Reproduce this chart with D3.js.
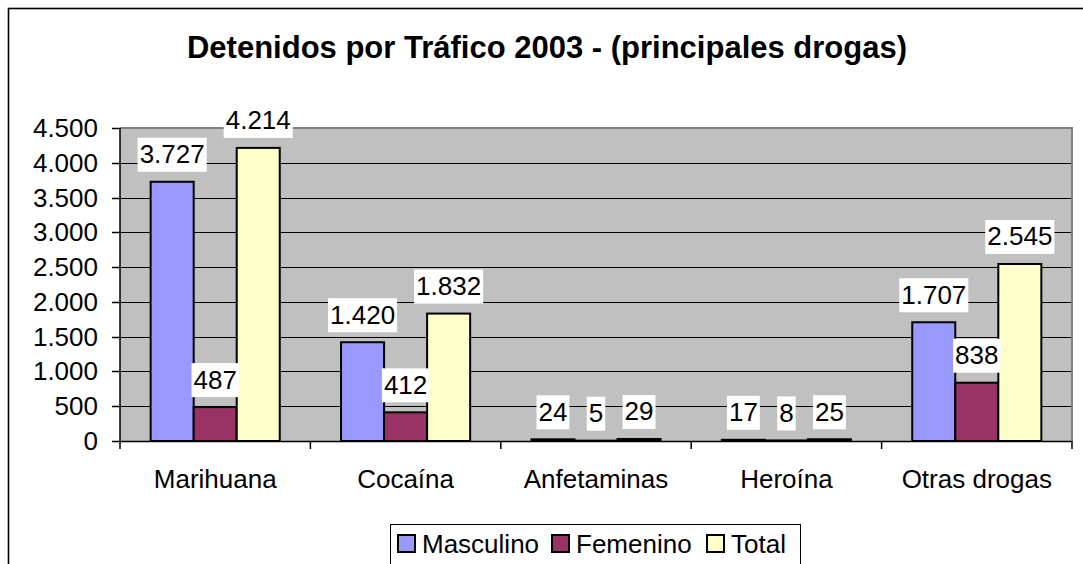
<!DOCTYPE html>
<html>
<head>
<meta charset="utf-8">
<script src="https://cdn.jsdelivr.net/npm/d3@7"></script>
<style>
  body { margin: 0; background: #fff; }
  svg { display: block; font-family: 'Liberation Sans', Arial, sans-serif; }
</style>
</head>
<body>
<div id="chart"></div>
<script>
const categories = ['Marihuana', 'Cocaína', 'Anfetaminas', 'Heroína', 'Otras drogas']
const series = ['Masculino', 'Femenino', 'Total']
const masculino = [3727, 1420, 24, 17, 1707]
const femenino = [487, 412, 5, 8, 838]
const total = [4214, 1832, 29, 25, 2545]
const yTicks = [0, 500, 1000, 1500, 2000, 2500, 3000, 3500, 4000, 4500]
const title = 'Detenidos por Tráfico 2003 - (principales drogas)'

const colors = {Masculino: '#9999ff', Femenino: '#993366', Total: '#ffffcc'}
const values = {Masculino: masculino, Femenino: femenino, Total: total}

const width = 1083, height = 564
const plot = {left: 120, right: 1072, top: 128, bottom: 441}
const fontSize = 26

const fmt = d3.formatLocale({decimal: ',', thousands: '.', grouping: [3], currency: ['', '']}).format(',d')

const svg = d3.select('#chart').append('svg')
  .attr('width', width)
  .attr('height', height)

// chart area border (runs off the right and bottom of the window)
svg.append('rect')
  .attr('x', 8.5).attr('y', 8.5)
  .attr('width', 1100).attr('height', 600)
  .attr('fill', '#fff')
  .attr('stroke', '#000')
  .attr('stroke-width', 1.6)

svg.append('text')
  .attr('x', 547)
  .attr('y', 58)
  .attr('text-anchor', 'middle')
  .attr('font-size', 31)
  .attr('font-weight', 'bold')
  .text(title)

const scaleX = d3.scaleBand().domain(categories).range([plot.left, plot.right])
const bw = scaleX.bandwidth()
const scaleS = d3.scaleBand().domain(series).range([bw * 0.161, bw * 0.839])
const scaleY = d3.scaleLinear().domain([0, 4500]).range([plot.bottom, plot.top])

svg.append('rect')
  .attr('x', plot.left).attr('y', plot.top)
  .attr('width', plot.right - plot.left)
  .attr('height', plot.bottom - plot.top)
  .attr('fill', '#c0c0c0')

svg.append('g').selectAll('line')
  .data(yTicks.filter(d => d > 0))
  .enter()
  .append('line')
  .attr('x1', plot.left).attr('x2', plot.right)
  .attr('y1', d => Math.round(scaleY(d)) + 0.5)
  .attr('y2', d => Math.round(scaleY(d)) + 0.5)
  .attr('stroke', '#000')
  .attr('stroke-width', 1)

// plot border (grey)
svg.append('path')
  .attr('d', `M${plot.left},${plot.top}H${plot.right}V${plot.bottom}`)
  .attr('fill', 'none')
  .attr('stroke', '#808080')
  .attr('stroke-width', 2)

const flat = []
categories.forEach((c, i) => {
  series.forEach(s => flat.push({cat: c, s: s, v: values[s][i]}))
})

svg.append('g').selectAll('rect')
  .data(flat)
  .enter()
  .append('rect')
  .attr('x', d => scaleX(d.cat) + scaleS(d.s))
  .attr('y', d => scaleY(d.v))
  .attr('width', scaleS.bandwidth())
  .attr('height', d => scaleY(0) - scaleY(d.v))
  .attr('fill', d => colors[d.s])
  .attr('stroke', '#000')
  .attr('stroke-width', 2)

// data labels with white boxes
const labels = svg.append('g').selectAll('g')
  .data(flat)
  .enter()
  .append('g')
  .attr('transform', d => `translate(${scaleX(d.cat) + scaleS(d.s) + scaleS.bandwidth() / 2},${scaleY(d.v) - 10})`)

labels.append('text')
  .attr('text-anchor', 'middle')
  .attr('y', -8.5)
  .attr('font-size', fontSize)
  .text(d => fmt(d.v))

labels.each(function () {
  const g = d3.select(this)
  const w = g.select('text').node().getComputedTextLength()
  g.insert('rect', 'text')
    .attr('x', -w / 2 - 2)
    .attr('y', -34)
    .attr('width', w + 4)
    .attr('height', 34)
    .attr('fill', '#fff')
})

// axes
const axis = svg.append('g').attr('stroke', '#000').attr('stroke-width', 1.5)
axis.append('line')
  .attr('x1', plot.left).attr('x2', plot.left)
  .attr('y1', plot.top).attr('y2', plot.bottom + 8)
axis.append('line')
  .attr('x1', plot.left).attr('x2', plot.right)
  .attr('y1', plot.bottom + 0.5).attr('y2', plot.bottom + 0.5)
axis.selectAll('.ytick')
  .data(yTicks)
  .enter()
  .append('line')
  .attr('x1', plot.left - 8).attr('x2', plot.left)
  .attr('y1', d => Math.round(scaleY(d)) + 0.5)
  .attr('y2', d => Math.round(scaleY(d)) + 0.5)
axis.selectAll('.xtick')
  .data(categories.slice(1).concat(['end']))
  .enter()
  .append('line')
  .attr('x1', d => d === 'end' ? plot.right : scaleX(d))
  .attr('x2', d => d === 'end' ? plot.right : scaleX(d))
  .attr('y1', plot.bottom).attr('y2', plot.bottom + 8)

svg.append('g').selectAll('text')
  .data(yTicks)
  .enter()
  .append('text')
  .attr('x', 98)
  .attr('y', d => scaleY(d) + 9)
  .attr('text-anchor', 'end')
  .attr('font-size', fontSize)
  .text(d => fmt(d))

svg.append('g').selectAll('text')
  .data(categories)
  .enter()
  .append('text')
  .attr('x', d => scaleX(d) + bw / 2)
  .attr('y', 488)
  .attr('text-anchor', 'middle')
  .attr('font-size', fontSize)
  .text(d => d)

// legend
const legend = svg.append('g')
legend.append('rect')
  .attr('x', 390.5).attr('y', 524.5)
  .attr('width', 410).attr('height', 60)
  .attr('fill', '#fff')
  .attr('stroke', '#000')
  .attr('stroke-width', 1)

const legendX = [398, 552, 707]
const items = legend.selectAll('g.item')
  .data(series)
  .enter()
  .append('g')
  .attr('transform', (d, i) => `translate(${legendX[i]},535)`)
items.append('rect')
  .attr('width', 17).attr('height', 17)
  .attr('fill', d => colors[d])
  .attr('stroke', '#000')
  .attr('stroke-width', 2)
items.append('text')
  .attr('x', 24)
  .attr('y', 18)
  .attr('font-size', fontSize)
  .text(d => d)
</script>
</body>
</html>
